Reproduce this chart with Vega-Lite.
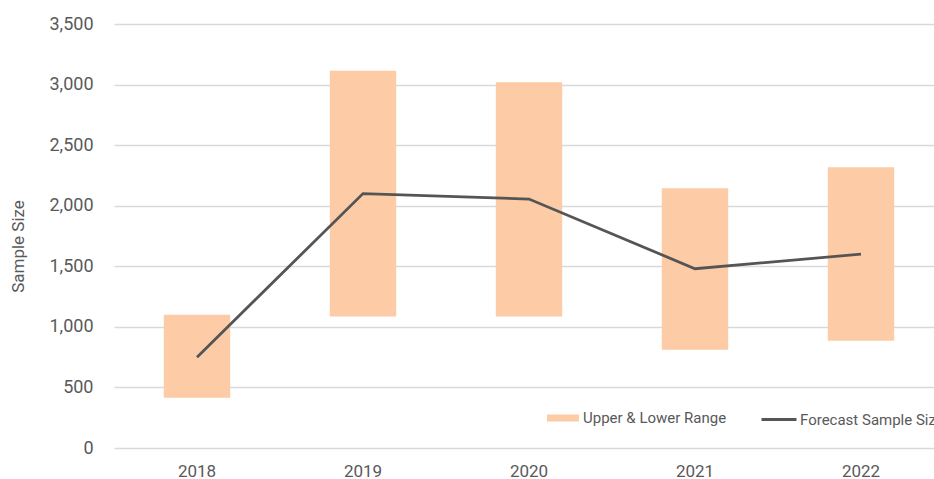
{
  "$schema": "https://vega.github.io/schema/vega-lite/v6.json",
  "autosize": {"type": "none"},
  "width": 820,
  "height": 424,
  "padding": {"left": 114, "top": 24, "right": 0, "bottom": 31},
  "background": "white",
  "config": {
    "font": "Roboto",
    "view": {"stroke": null},
    "axis": {"labelFont": "Roboto", "titleFont": "Roboto", "labelColor": "#595959", "titleColor": "#595959"},
    "legend": {"labelFont": "Roboto", "labelColor": "#595959"}
  },
  "data": {
    "values": [
      {"year": "2018", "low": 415, "high": 1100, "forecast": 750},
      {"year": "2019", "low": 1085, "high": 3115, "forecast": 2100},
      {"year": "2020", "low": 1085, "high": 3020, "forecast": 2055},
      {"year": "2021", "low": 810, "high": 2145, "forecast": 1480},
      {"year": "2022", "low": 885, "high": 2318, "forecast": 1600}
    ]
  },
  "encoding": {
    "x": {
      "field": "year",
      "type": "ordinal",
      "scale": {"range": [0, 830], "paddingInner": 0.6, "paddingOuter": 0.3},
      "axis": {
        "title": null,
        "labelAngle": 0,
        "domain": false,
        "ticks": false,
        "grid": false,
        "labelFontSize": 17,
        "labelPadding": 15,
        "labelBaseline": "top"
      }
    }
  },
  "layer": [
    {
      "mark": {"type": "bar", "opacity": 1},
      "encoding": {
        "y": {
          "field": "low",
          "type": "quantitative",
          "scale": {"domain": [0, 3500], "nice": false},
          "axis": {
            "title": "Sample Size",
            "values": [0, 500, 1000, 1500, 2000, 2500, 3000, 3500],
            "format": ",d",
            "domain": false,
            "ticks": false,
            "labelPadding": 21,
            "labelFontSize": 18,
            "gridColor": "#D9D9D9",
            "gridWidth": 1.5,
            "titleFontSize": 17,
            "titleFontWeight": "normal",
            "titleAngle": -90,
            "titleX": -96,
            "titleY": 222,
            "titleAlign": "center",
            "titleBaseline": "middle"
          }
        },
        "y2": {"field": "high"},
        "fill": {
          "datum": "Upper & Lower Range",
          "scale": {"range": ["#FDCCA6"]},
          "legend": {
            "title": null,
            "orient": "none",
            "legendX": 433,
            "legendY": 378,
            "padding": 0,
            "symbolType": "M-1,-0.22H1V0.22H-1Z",
            "symbolSize": 1024,
            "symbolStrokeWidth": 0,
            "labelFontSize": 15,
            "labelOffset": 4
          }
        }
      }
    },
    {
      "mark": {"type": "line", "strokeWidth": 2.8, "strokeCap": "butt"},
      "encoding": {
        "y": {"field": "forecast", "type": "quantitative"},
        "stroke": {
          "datum": "Forecast Sample Size",
          "scale": {"range": ["#555555"]},
          "legend": {
            "title": null,
            "orient": "none",
            "legendX": 646,
            "legendY": 376.5,
            "padding": 0,
            "symbolType": "stroke",
            "symbolSize": 1225,
            "symbolStrokeWidth": 3,
            "labelFontSize": 15,
            "labelOffset": 2
          }
        }
      }
    }
  ],
  "resolve": {"scale": {"fill": "independent", "stroke": "independent"}, "legend": {"fill": "independent", "stroke": "independent"}}
}
